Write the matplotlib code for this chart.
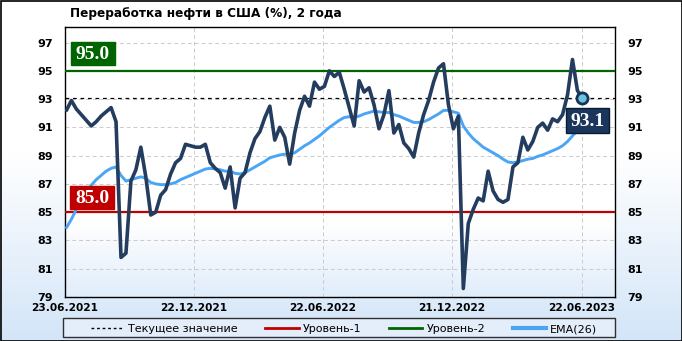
import matplotlib
matplotlib.use("Agg")
import matplotlib.pyplot as plt
import matplotlib.dates as mdates
import matplotlib.transforms as mtransforms
from matplotlib.patches import Rectangle
from matplotlib.lines import Line2D
from matplotlib.colors import LinearSegmentedColormap
import numpy as np
import pandas as pd

# ---------------- data ----------------
title = "Переработка нефти в США (%), 2 года"
start_date = "2021-06-25"
refinery = [
    92.2, 92.9, 92.3, 91.9, 91.5, 91.1, 91.4, 91.8, 92.1, 92.4,
    91.4, 81.8, 82.1, 87.2, 88.0, 89.6, 87.5, 84.8, 85.0, 86.2,
    86.6, 87.7, 88.5, 88.8, 89.8, 89.7, 89.6, 89.6, 89.8, 88.5,
    88.1, 87.8, 86.7, 88.2, 85.3, 87.4, 87.8, 89.2, 90.2, 90.7,
    91.7, 92.5, 90.1, 91.0, 90.3, 88.4, 90.6, 92.2, 93.2, 92.5,
    94.2, 93.7, 93.9, 95.0, 94.6, 94.9, 93.7, 92.4, 91.1, 94.3,
    93.5, 93.8, 92.6, 90.9, 91.9, 93.6, 90.6, 91.2, 89.9, 89.5,
    88.9, 90.6, 91.9, 92.9, 94.2, 95.2, 95.5, 92.6, 90.9, 91.8,
    79.6, 84.2, 85.2, 86.0, 85.8, 87.9, 86.5, 85.9, 85.7, 85.9,
    88.2, 88.5, 90.3, 89.4, 90.0, 91.0, 91.3, 90.8, 91.6, 91.4,
    91.9, 93.3, 95.8, 93.6, 93.1,
]
ema26 = [
    83.9, 84.5, 85.2, 85.9, 86.4, 86.9, 87.3, 87.6, 87.9, 88.1,
    88.2, 87.6, 87.2, 87.3, 87.4, 87.5, 87.4, 87.1, 87.0, 86.95,
    86.95, 87.0, 87.1, 87.3, 87.45, 87.6, 87.75, 87.9, 88.05, 88.1,
    88.06, 88.0, 87.9, 87.9, 87.75, 87.7, 87.8, 88.0, 88.2, 88.4,
    88.6, 88.85, 88.95, 89.05, 89.1, 89.1, 89.2, 89.45, 89.7, 89.9,
    90.15, 90.4, 90.7, 91.0, 91.25, 91.5, 91.7, 91.75, 91.7, 91.8,
    91.95, 92.05, 92.15, 92.1, 92.05, 92.05, 91.9, 91.8, 91.65, 91.5,
    91.35, 91.35, 91.4, 91.55, 91.75, 91.95, 92.2, 92.2, 92.1, 92.0,
    91.1, 90.6, 90.2, 89.9, 89.6, 89.4, 89.2, 89.0, 88.75, 88.55,
    88.5, 88.55, 88.65, 88.75, 88.8, 88.95, 89.05, 89.2, 89.35, 89.5,
    89.7, 90.0, 90.4, 90.75, 91.1,
]
level1 = 85.0
level2 = 95.0
current_value = 93.1
x_tick_dates = ["2021-06-23", "2021-12-22", "2022-06-22", "2022-12-21", "2023-06-22"]
x_tick_labels = ["23.06.2021", "22.12.2021", "22.06.2022", "21.12.2022", "22.06.2023"]
x_limits = ["2021-06-23", "2023-08-08"]
y_ticks = [79, 81, 83, 85, 87, 89, 91, 93, 95, 97]
y_limits = (79, 98.1)
legend_labels = ["Текущее значение", "Уровень-1", "Уровень-2", "EMA(26)"]

# ---------------- styles ----------------
C_MAIN = "#243d5f"
C_EMA = "#4aa6f5"
C_RED = "#c00000"
C_GREEN = "#006400"
C_GRID = "#cbcbcb"

dates = pd.date_range(start_date, periods=len(refinery), freq="7D")

W, H = 682, 341
fig = plt.figure(figsize=(W / 100, H / 100), dpi=100)

# figure background gradient
bg = fig.add_axes([0, 0, 1, 1], zorder=-10)
bg.set_axis_off()
g = np.linspace(0, 1, 341).reshape(-1, 1)
g = np.clip((g - 0.45) / 0.55, 0, 1)
cm_bg = LinearSegmentedColormap.from_list("bg", ["#ffffff", "#d3e5f8"])
bg.imshow(g, aspect="auto", cmap=cm_bg, extent=[0, 1, 0, 1], origin="upper", vmin=0, vmax=1)
bg.set_xlim(0, 1)
bg.set_ylim(0, 1)

ax = fig.add_axes([65 / W, 1 - 297 / H, 550 / W, 270 / H])
ax.set_facecolor("none")
ga = np.linspace(0, 1, 270).reshape(-1, 1)
ga = np.clip((ga - 0.72) / 0.28, 0, 1)
cm_ax = LinearSegmentedColormap.from_list("axbg", ["#ffffff", "#e1edfb"])
ax.imshow(ga, aspect="auto", cmap=cm_ax, extent=[0, 1, 0, 1], origin="upper",
          transform=ax.transAxes, vmin=0, vmax=1, zorder=0)

xt = pd.to_datetime(x_tick_dates)
ax.set_xlim(pd.to_datetime(x_limits[0]), pd.to_datetime(x_limits[1]))
ax.set_ylim(*y_limits)
ax.set_yticks(y_ticks)
ax.set_xticks(xt)
ax.set_xticklabels(x_tick_labels)

ax.grid(True, color=C_GRID, linestyle=(0, (4, 3)), linewidth=0.7, zorder=1)
ax.set_axisbelow(True)

ax.tick_params(axis="y", which="both", length=0, left=False, right=False,
               labelleft=True, labelright=True, pad=9, labelsize=8)
ax.tick_params(axis="x", length=0, pad=4, labelsize=7.6)
for lab in ax.get_xticklabels() + ax.get_yticklabels():
    lab.set_fontweight("bold")
for t in ax.yaxis.get_major_ticks():
    t.label2.set_fontweight("bold")
    t.label2.set_fontsize(8)

for s in ax.spines.values():
    s.set_color("black")
    s.set_linewidth(1.0)

# level lines
ax.axhline(level2, color=C_GREEN, lw=1.6, zorder=3)
ax.axhline(level1, color=C_RED, lw=1.6, zorder=3)
ax.axhline(current_value, color="black", lw=0.9, ls=(0, (3, 3)), zorder=3)

# series
ax.plot(dates, ema26, color=C_EMA, lw=2.1, zorder=4, solid_joinstyle="round", solid_capstyle="round")
ax.plot(dates, refinery, color=C_MAIN, lw=2.6, zorder=5, solid_joinstyle="round", solid_capstyle="round")
ax.plot([dates[-1]], [refinery[-1]], marker="o", ms=8, mfc="#6cc3dc", mec="#17335c", mew=2, zorder=7)

# value boxes (pixel offsets)
blend = mtransforms.blended_transform_factory(ax.transAxes, ax.transData)
serif = dict(family="Liberation Serif", weight="bold", size=14, color="white")


def px_box(anchor_x, anchor_y, base, rect, color, text, edge=None):
    tr = mtransforms.Affine2D() + mtransforms.ScaledTranslation(anchor_x, anchor_y, base)
    x0, y0, w, h = rect
    ax.add_patch(Rectangle((x0, y0), w, h, transform=tr, facecolor=color,
                           edgecolor=edge if edge else color, lw=1, zorder=8, clip_on=False))
    ax.text(x0 + w / 2, y0 + h / 2 - 1, text, transform=tr, ha="center", va="center",
            zorder=9, clip_on=False, **serif)


px_box(0, level2, blend, (5.5, 6, 44, 23), C_GREEN, f"{level2:.1f}")
px_box(0, level1, blend, (5, 3.5, 44, 23), C_RED, f"{level1:.1f}")
px_box(mdates.date2num(dates[-1]), refinery[-1], ax.transData, (-16.5, -35, 43.5, 24.5),
       "#1b365d", f"{current_value:.1f}", edge="#0b1a30")

# title
fig.text(70 / W, 1 - 14 / H, title, ha="left", va="center", fontsize=8.7,
         fontweight="bold", color="black")

# legend frame (drawn manually) + legend entries
fig.add_artist(Rectangle((63 / W, 1 - 337 / H), 552 / W, 19 / H, transform=fig.transFigure,
                         facecolor="#e4eefa", edgecolor="#303030", lw=1.0, zorder=20))
handles = [
    Line2D([], [], color="black", lw=1.0, ls=(0, (2, 2))),
    Line2D([], [], color=C_RED, lw=2.0),
    Line2D([], [], color=C_GREEN, lw=2.0),
    Line2D([], [], color=C_EMA, lw=3.0),
]
leg = fig.legend(handles, legend_labels, loc="lower left", ncol=4, mode="expand",
                 bbox_to_anchor=(88 / W, 1 - 337 / H, 512 / W, 19 / H),
                 fontsize=8, frameon=False, handlelength=3.0,
                 handletextpad=0.35, borderpad=0.25, borderaxespad=0, columnspacing=2.0)
leg.set_zorder(21)

# figure border
fig.add_artist(Rectangle((0.5 / W, 0.5 / H), 1 - 1 / W, 1 - 1 / H, transform=fig.transFigure,
                         fill=False, edgecolor="black", lw=1.2, zorder=100))

fig.savefig("out.png", dpi=100)
